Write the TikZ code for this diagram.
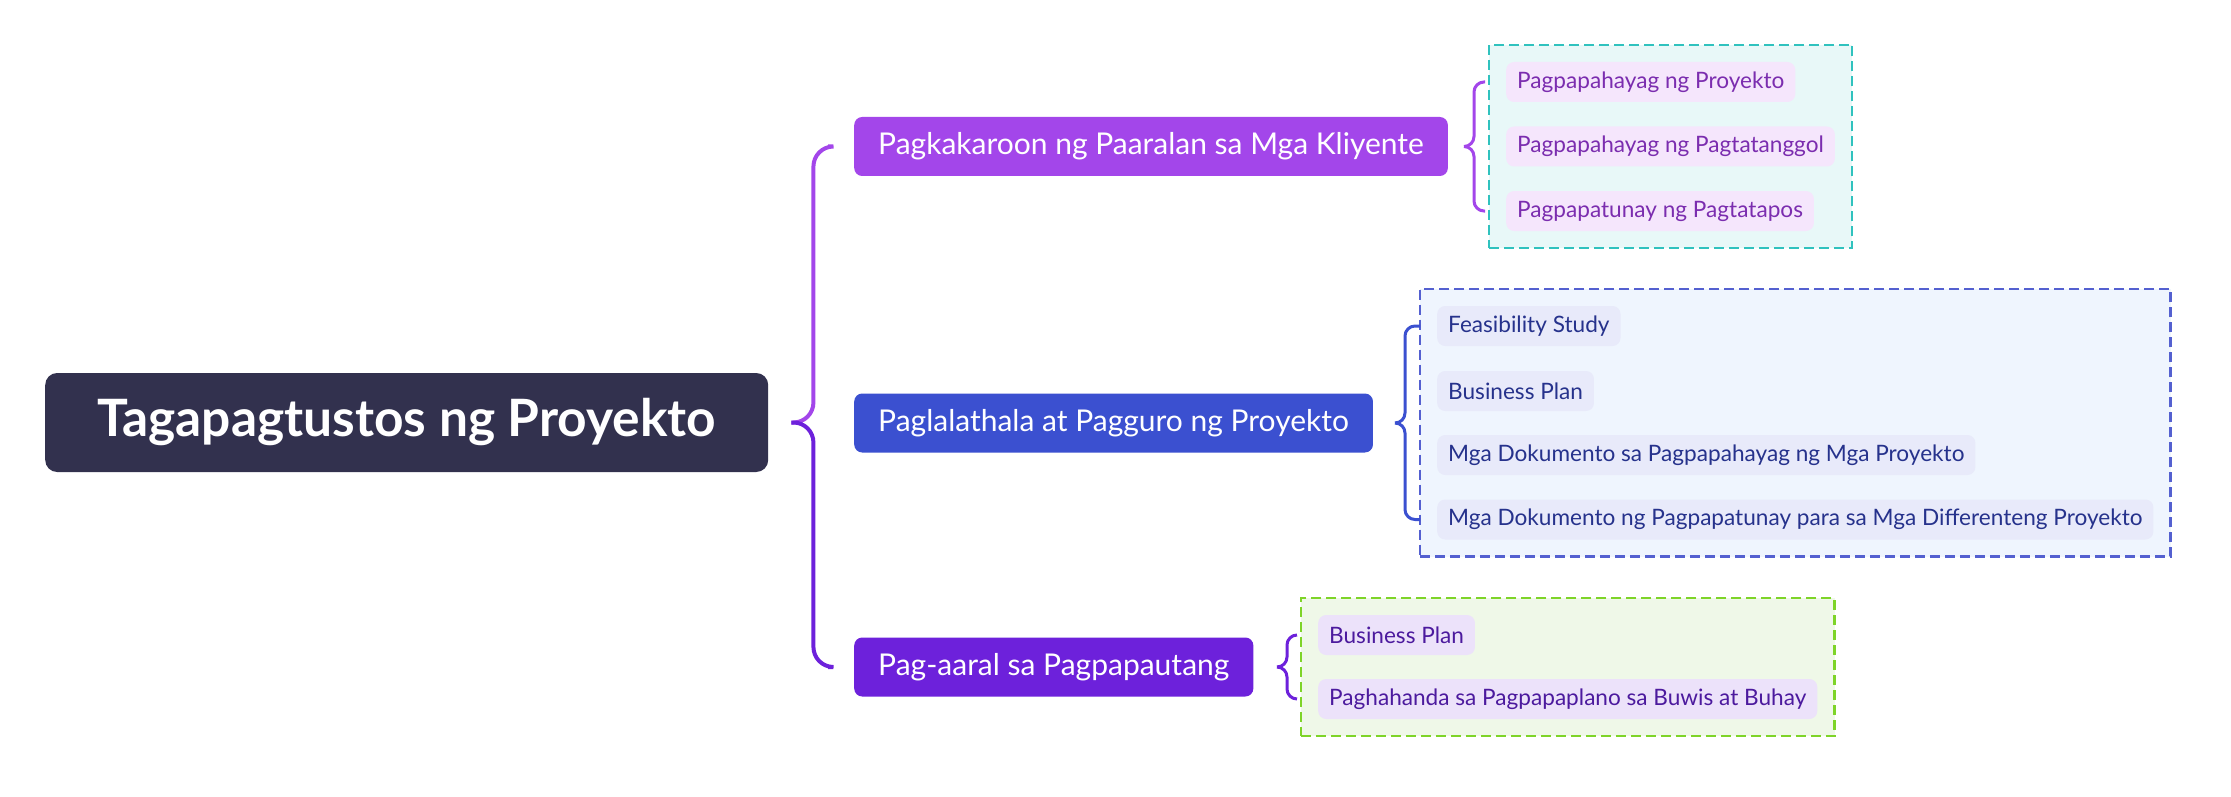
\documentclass[tikz,border=0pt]{standalone}
\usepackage{fontspec}
\setmainfont{Lato}
\usetikzlibrary{calc,fit,backgrounds}

\definecolor{rootfill}{RGB}{50,49,78}
\definecolor{topicA}{RGB}{163,70,234}
\definecolor{topicB}{RGB}{59,80,208}
\definecolor{topicC}{RGB}{109,33,219}
\definecolor{leafAfill}{RGB}{245,230,252}
\definecolor{leafAtext}{RGB}{123,45,175}
\definecolor{leafBfill}{RGB}{232,234,250}
\definecolor{leafBtext}{RGB}{38,50,140}
\definecolor{leafCfill}{RGB}{236,226,250}
\definecolor{leafCtext}{RGB}{76,26,158}
\definecolor{groupAline}{RGB}{48,194,190}
\definecolor{groupAfill}{RGB}{232,248,248}
\definecolor{groupBline}{RGB}{84,96,208}
\definecolor{groupBfill}{RGB}{239,245,254}
\definecolor{groupCline}{RGB}{126,212,40}
\definecolor{groupCfill}{RGB}{239,248,232}

\tikzset{
  rootbox/.style={rectangle, rounded corners=12pt, fill=rootfill, text=white, font=\fontsize{51.5}{58}\selectfont\bfseries, minimum height=99pt, inner xsep=52pt, anchor=west},
  topic/.style={rectangle, rounded corners=8pt, text=white, font=\fontsize{30}{34}\selectfont, minimum height=59pt, inner xsep=24pt, anchor=west},
  leaf/.style={rectangle, rounded corners=8pt, font=\fontsize{22.6}{27}\selectfont, minimum height=40pt, inner xsep=11pt, anchor=west},
  group/.style={rectangle, line width=2.5pt, inner sep=17pt, dash pattern=on 10pt off 5pt},
  brace/.style={line width=4pt, rounded corners=20pt},
  subbrace/.style={line width=3pt, rounded corners=10pt}
}

\begin{document}
\begin{tikzpicture}[x=1pt, y=-1pt]
    \useasboundingbox (0,0) rectangle (2231,797);

    \node[rootbox] (root) at (45, 422.5) {Tagapagtustos ng Proyekto};

    \node[topic, fill=topicA] (n1) at (854, 146.5) {Pagkakaroon ng Paaralan sa Mga Kliyente};
    \node[topic, fill=topicB] (n2) at (854, 423) {Paglalathala at Pagguro ng Proyekto};
    \node[topic, fill=topicC] (n3) at (854, 667) {Pag-aaral sa Pagpapautang};

    % mga detalye
    \node[leaf, fill=leafAfill, text=leafAtext] (a1) at (1506, 82) {Pagpapahayag ng Proyekto};
    \node[leaf, fill=leafAfill, text=leafAtext] (a2) at (1506, 146.5) {Pagpapahayag ng Pagtatanggol};
    \node[leaf, fill=leafAfill, text=leafAtext] (a3) at (1506, 211) {Pagpapatunay ng Pagtatapos};

    \node[leaf, fill=leafBfill, text=leafBtext] (b1) at (1437, 326) {Feasibility Study};
    \node[leaf, fill=leafBfill, text=leafBtext] (b2) at (1437, 391) {Business Plan};
    \node[leaf, fill=leafBfill, text=leafBtext] (b3) at (1437, 455) {Mga Dokumento sa Pagpapahayag ng Mga Proyekto};
    \node[leaf, fill=leafBfill, text=leafBtext] (b4) at (1437, 519.5) {Mga Dokumento ng Pagpapatunay para sa Mga Differenteng Proyekto};

    \node[leaf, fill=leafCfill, text=leafCtext] (c1) at (1318, 635) {Business Plan};
    \node[leaf, fill=leafCfill, text=leafCtext] (c2) at (1318, 699) {Paghahanda sa Pagpapaplano sa Buwis at Buhay};

    \begin{scope}[on background layer]
        \node[group, draw=groupAline, fill=groupAfill, fit=(a1)(a2)(a3)] (ga) {};
        \node[group, draw=groupBline, fill=groupBfill, fit=(b1)(b2)(b3)(b4)] (gb) {};
        \node[group, draw=groupCline, fill=groupCfill, fit=(c1)(c2)] (gc) {};
    \end{scope}

    % braces
    \draw[brace, topicA] ($(n1.west)+(-26,0)$) -| ($(root.east)+(45,0)$) -- ($(root.east)+(23,0)$);
    \draw[brace, topicC] ($(n3.west)+(-26,0)$) -| ($(root.east)+(45,0)$) -- ($(root.east)+(23,0)$);

    \draw[subbrace, topicA] ($(a1.west)+(-21,0)$) -| ($(a1.west |- n1.east)+(-32,0)$) -- ($(a1.west |- n1.east)+(-42,0)$);
    \draw[subbrace, topicA] ($(a3.west)+(-21,0)$) -| ($(a1.west |- n1.east)+(-32,0)$) -- ($(a1.west |- n1.east)+(-42,0)$);
    \draw[subbrace, topicB] ($(b1.west)+(-17,0)$) -| ($(b1.west |- n2.east)+(-32,0)$) -- ($(b1.west |- n2.east)+(-42,0)$);
    \draw[subbrace, topicB] ($(b4.west)+(-17,0)$) -| ($(b1.west |- n2.east)+(-32,0)$) -- ($(b1.west |- n2.east)+(-42,0)$);
    \draw[subbrace, topicC] ($(c1.west)+(-21,0)$) -| ($(c1.west |- n3.east)+(-31,0)$) -- ($(c1.west |- n3.east)+(-41,0)$);
    \draw[subbrace, topicC] ($(c2.west)+(-21,0)$) -| ($(c1.west |- n3.east)+(-31,0)$) -- ($(c1.west |- n3.east)+(-41,0)$);
\end{tikzpicture}
\end{document}
